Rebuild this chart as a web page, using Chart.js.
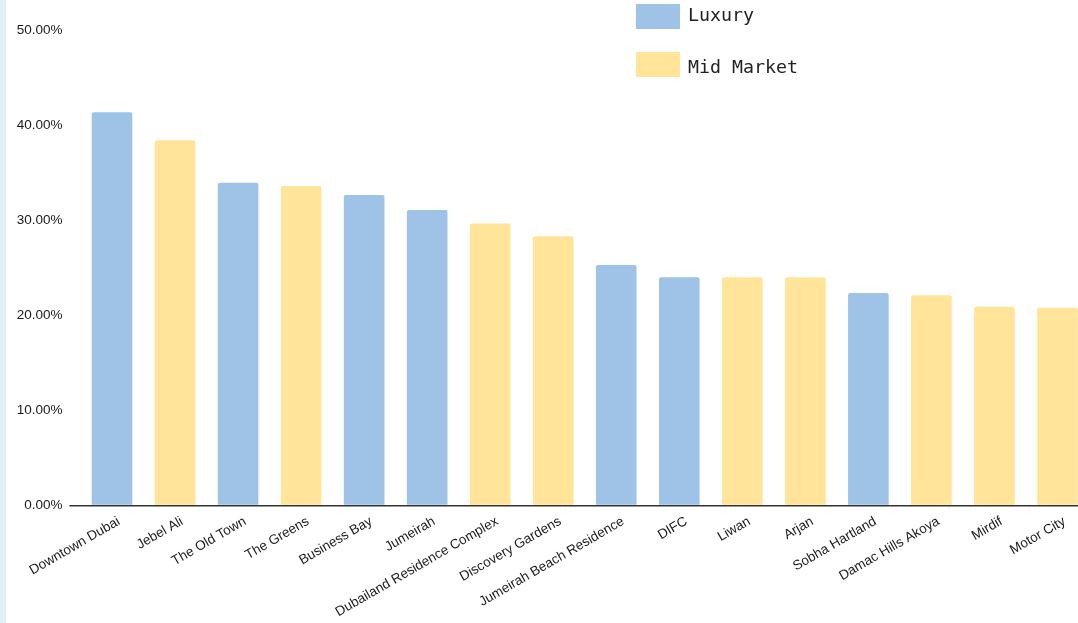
<!DOCTYPE html>
<html>
<head>
<meta charset="utf-8">
<script src="https://cdn.jsdelivr.net/npm/chart.js@4/dist/chart.umd.min.js"></script>
<style>
    body { margin: 0; overflow: hidden; background: #fff; }
    #wrap { position: relative; width: 1089px; height: 623px; }
    #strip { position: absolute; left: 0; top: 0; width: 6px; height: 623px; background: #e0f1f6; z-index: 2; }
    #legend { position: absolute; left: 636px; top: 4px; font-family: "DejaVu Sans Mono", monospace; font-size: 18.3px; color: #222; z-index: 2; white-space: nowrap; }
    .item { position: relative; height: 48px; }
    .box { position: absolute; left: 0; top: 0; width: 44px; height: 25px; }
    .lbl { position: absolute; left: 52px; top: 0; line-height: 22px; }
    .item + .item .lbl { top: 4px; }
</style>
</head>
<body>
<div id="wrap">
    <div id="strip"></div>
    <canvas id="areaChart" width="1089" height="623"></canvas>
    <div id="legend"></div>
</div>
<script>
var areas = ["Downtown Dubai", "Jebel Ali", "The Old Town", "The Greens", "Business Bay", "Jumeirah",
    "Dubailand Residence Complex", "Discovery Gardens", "Jumeirah Beach Residence", "DIFC", "Liwan",
    "Arjan", "Sobha Hartland", "Damac Hills Akoya", "Mirdif", "Motor City"]
// null where the area belongs to the other segment
var luxury = [41.35, null, 33.95, null, 32.65, 31.07, null, null, 25.3, 24.0, null, null, 22.35, null, null, null]
var midMarket = [null, 38.4, null, 33.6, null, null, 29.64, 28.3, null, null, 24.0, 24.0, null, 22.1, 20.9, 20.8]
var yTicks = [0, 10, 20, 30, 40, 50]

var blue = '#9fc3e7'
var yellow = '#ffe499'

var ctx = document.getElementById('areaChart').getContext('2d');
var areaChart = new Chart(ctx, {
    type: 'bar',
    data: {
        labels: areas,
        datasets: [{
            label: "Luxury",
            data: luxury,
            backgroundColor: blue,
            borderRadius: { topLeft: 2, topRight: 2 },
            borderSkipped: 'bottom',
        }, {
            label: "Mid Market",
            data: midMarket,
            backgroundColor: yellow,
            borderRadius: { topLeft: 2, topRight: 2 },
            borderSkipped: 'bottom',
        }]
    },
    options: {
        responsive: false,
        animation: false,
        barPercentage: 0.645,
        categoryPercentage: 1.0,
        layout: { padding: { top: 30, right: 0, left: 0, bottom: 0 } },
        scales: {
            x: {
                stacked: true,
                grid: { display: false },
                border: { display: false },
                ticks: {
                    autoSkip: false,
                    minRotation: 30,
                    maxRotation: 30,
                    padding: 0,
                    labelOffset: 7,
                    color: '#1a1a1a',
                    font: { family: 'Liberation Sans, Arial', size: 13.5 }
                },
                afterFit: function(scale) { scale.height = 117.5 }
            },
            y: {
                stacked: true,
                min: 0,
                max: 50,
                afterBuildTicks: function(scale) {
                    scale.ticks = yTicks.map(function(v) { return { value: v } })
                },
                afterFit: function(scale) { scale.width = 80.5 },
                border: { display: false },
                grid: {
                    // only the zero line is drawn, tick mark included
                    color: function(c) { return c.tick && c.tick.value === 0 ? '#333' : 'rgba(0,0,0,0)' },
                    lineWidth: 1.5,
                    tickLength: 11,
                },
                ticks: {
                    padding: 7,
                    color: '#1a1a1a',
                    font: { family: 'Liberation Sans, Arial', size: 13.5 },
                    callback: function(v) { return v.toFixed(2) + '%' }
                }
            }
        },
        plugins: {
            legend: { display: false },
            tooltip: { enabled: false },
        },
    }
});

var legend = document.getElementById('legend')
areaChart.data.datasets.forEach(function(ds) {
    var item = document.createElement('div')
    item.className = 'item'
    item.innerHTML = '<div class="box" style="background:' + ds.backgroundColor + '"></div><div class="lbl">' + ds.label + '</div>'
    legend.appendChild(item)
})
</script>
</body>
</html>
